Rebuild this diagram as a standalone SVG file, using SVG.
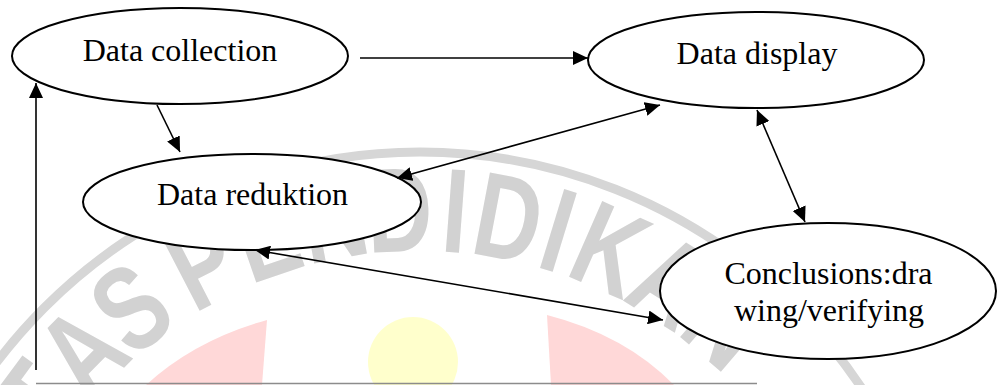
<svg xmlns="http://www.w3.org/2000/svg" width="997" height="385" viewBox="0 0 997 385">
<style>
.node ellipse{fill:#fff;stroke:#000;stroke-width:2}
.lbl{font-family:"Liberation Serif","Times New Roman",serif;font-size:32px;fill:#000;text-anchor:middle}
.edge{stroke:#000;stroke-width:1.6;fill:none}
.wm{font-family:"Liberation Sans",Arial,sans-serif;font-weight:bold;font-size:120px;fill:#d2d2d2;text-anchor:middle}
</style>
<defs>
<marker id="ah" markerUnits="userSpaceOnUse" markerWidth="16" markerHeight="14" refX="15" refY="7" orient="auto-start-reverse">
<path d="M0,0 L15,7 L0,14 Z" fill="#000"/>
</marker>
</defs>
<rect width="997" height="385" fill="#fff"/>
<g id="watermark">
<path d="M267,320 L262,385 L146,385 Q195,340 267,320 Z" fill="#ffd8d8"/>
<path d="M547,315 L551,385 L674,385 Q625,335 547,315 Z" fill="#ffd8d8"/>
<circle cx="413" cy="362" r="45" fill="#ffffcc"/>
<circle cx="420" cy="683" r="531" fill="none" stroke="#d6d6d6" stroke-width="9"/>
<text class="wm" transform="rotate(-53.5 420 683) translate(420 251) scale(0.76 1)">T</text>
<text class="wm" transform="rotate(-45.5 420 683) translate(420 251) scale(0.76 1)">A</text>
<text class="wm" transform="rotate(-37.6 420 683) translate(420 251) scale(0.76 1)">S</text>
<text class="wm" transform="rotate(-27.4 420 683) translate(420 251) scale(0.76 1)">P</text>
<text class="wm" transform="rotate(-19 420 683) translate(420 251) scale(0.76 1)">E</text>
<text class="wm" transform="rotate(-10.6 420 683) translate(420 251) scale(0.76 1)">N</text>
<text class="wm" transform="rotate(-2.5 420 683) translate(420 251) scale(0.76 1)">D</text>
<text class="wm" transform="rotate(4.3 420 683) translate(420 251) scale(0.76 1)">I</text>
<text class="wm" transform="rotate(10.8 420 683) translate(420 251) scale(0.76 1)">D</text>
<text class="wm" transform="rotate(17 420 683) translate(420 251) scale(0.76 1)">I</text>
<text class="wm" transform="rotate(23.7 420 683) translate(420 251) scale(0.76 1)">K</text>
<text class="wm" transform="rotate(32 420 683) translate(420 251) scale(0.76 1)">A</text>
<text class="wm" transform="rotate(40.5 420 683) translate(420 251) scale(0.76 1)">N</text>
</g>
<g id="n-collection" class="node">
<ellipse cx="180" cy="56" rx="168" ry="48"/>
<text class="lbl" x="180" y="61">Data collection</text>
</g>
<g id="n-display" class="node">
<ellipse cx="756" cy="60" rx="168" ry="48"/>
<text class="lbl" x="757" y="64">Data display</text>
</g>
<g id="n-reduktion" class="node">
<ellipse cx="252" cy="202" rx="169" ry="48"/>
<text class="lbl" x="252.5" y="205">Data reduktion</text>
</g>
<g id="n-conclusions" class="node">
<ellipse cx="828" cy="291" rx="168" ry="68"/>
<text class="lbl" x="828.5" y="284">Conclusions:dra</text>
<text class="lbl" x="829" y="321">wing/verifying</text>
</g>
<g id="connectors">
<line class="edge" x1="360" y1="58" x2="588" y2="58" marker-end="url(#ah)"/>
<line class="edge" x1="157" y1="105" x2="180" y2="152" marker-end="url(#ah)"/>
<line class="edge" x1="397" y1="178" x2="660" y2="105" marker-start="url(#ah)" marker-end="url(#ah)"/>
<line class="edge" x1="757" y1="110" x2="805" y2="222" marker-start="url(#ah)" marker-end="url(#ah)"/>
<line class="edge" x1="255" y1="250" x2="663" y2="320" marker-start="url(#ah)" marker-end="url(#ah)"/>
<line class="edge" x1="36" y1="370" x2="36" y2="83" marker-end="url(#ah)"/>
<line x1="36" y1="383.5" x2="757" y2="383.5" stroke="#8c8c8c" stroke-width="1.6"/>
</g>
</svg>
